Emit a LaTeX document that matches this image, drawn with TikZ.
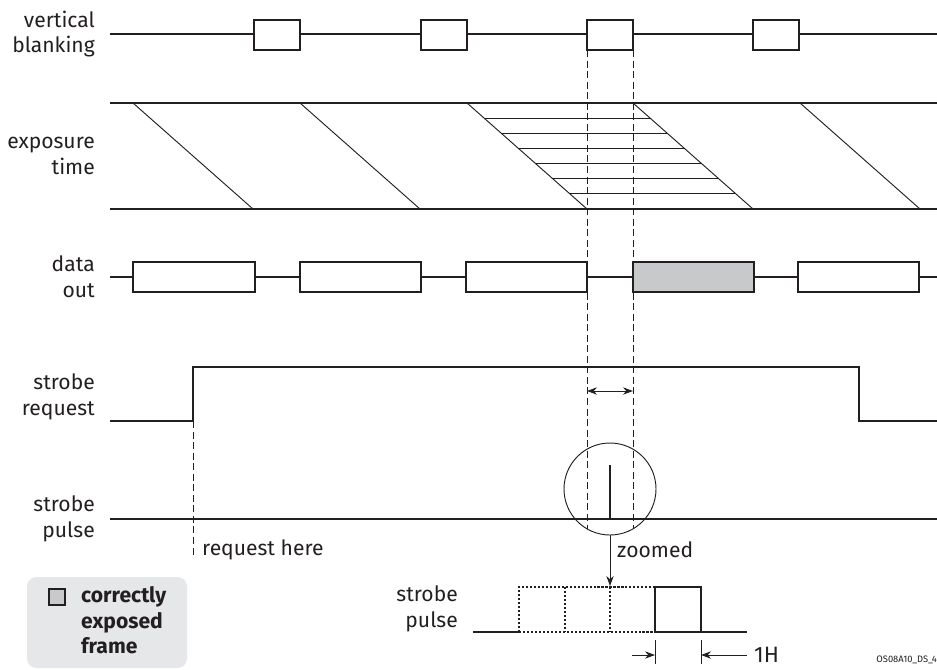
\documentclass[tikz,border=0pt]{standalone}
\usepackage{fontspec}
\setmainfont{Fira Sans}
\usetikzlibrary{arrows.meta,positioning,calc}
\definecolor{inkline}{RGB}{35,31,32}
\definecolor{framegray}{RGB}{200,201,202}
\definecolor{legendgray}{RGB}{230,231,232}

\begin{document}
\begin{tikzpicture}[x=0.03cm, y=-0.03cm,
    sig/.style={draw=inkline, line width=2.4pt},
    fine/.style={draw=inkline, line width=0.8pt},
    guide/.style={draw=inkline, line width=0.8pt, dash pattern=on 6pt off 3pt},
    dots/.style={draw=inkline, line width=1.8pt, dash pattern=on 1.8pt off 1.6pt},
    blank/.style={sig, fill=white},
    lbl/.style={font=\fontsize{18}{22}\selectfont, text=inkline, align=right, anchor=east, inner sep=0pt},
    note/.style={font=\fontsize{18}{22}\selectfont, text=inkline, anchor=west, inner sep=0pt},
    arr/.style={-{Stealth[length=3mm, width=2.2mm]}, fine}]
  \useasboundingbox (0,0) rectangle (937,669);

  % Signal names
  \node[lbl] (vblank) at (95,34) {vertical\\blanking};
  \node[lbl] (expo) at (95,156) {exposure\\time};
  \node[lbl] (dout) at (95,277) {data\\out};
  \node[lbl] (sreq) at (95,397) {strobe\\request};
  \node[lbl] (spulse) at (95,519) {strobe\\pulse};

  % Vertical blanking
  \draw[sig] (110,34) -- (937,34);
  \foreach \bx in {254,421,587,753}
    \draw[blank] (\bx,20) rectangle ++(46,30);

  % Exposure time
  \draw[sig] (110,103) -- (937,103);
  \draw[sig] (110,209) -- (937,209);
  \foreach \dx in {133,300,467,633,800}
    \draw[fine] (\dx,103) -- ++(120,106);
  \foreach \hy in {118,133,...,193}
    \draw[fine] ({467+(\hy-103)*120/106},\hy) -- ({633+(\hy-103)*120/106},\hy);

  % Data out
  \draw[sig] (110,277) -- (937,277);
  \foreach \bl/\br in {133/255,300/421,466/587,798/919}
    \draw[blank] (\bl,262) rectangle (\br,292);
  \draw[sig, fill=framegray] (633,262) rectangle (754,292);

  % Strobe request
  \draw[sig] (110,421) -- (193,421) -- (193,367) -- (859,367) -- (859,421) -- (937,421);
  \coordinate (reqtop) at (193,421);
  \coordinate (reqbot) at (193,557);
  \draw[guide] (reqtop) -- (reqbot);
  \node[note] (reqhere) at (202,550) {request here};

  % Strobe pulse
  \draw[sig] (110,519) -- (937,519);
  \draw[sig] (610,465) -- (610,519);
  \node[circle, draw=inkline, line width=0.8pt, minimum size=2.76cm, inner sep=0pt] (zoomring) at (610,489) {};

  % Window guides
  \coordinate (winL) at (587,50);
  \coordinate (winR) at (633,50);
  \draw[guide] (winL) -- (587,529);
  \draw[guide] (winR) -- (633,529);
  \coordinate (spanL) at (587,391);
  \coordinate (spanR) at (633,391);
  \draw[{Stealth[length=3mm, width=2.2mm]}-{Stealth[length=3mm, width=2.2mm]}, fine] (spanL) -- (spanR);

  % Zoomed pulse
  \coordinate (zoomtip) at (610,586);
  \draw[arr] (zoomring.south) -- (zoomtip);
  \node[note] (zoomed) at (617,550) {zoomed};
  \node[lbl] (zpulse) at (458,609) {strobe\\pulse};
  \draw[sig] (473,632) -- (519,632);
  \draw[sig] (655,632) -- (747,632);
  \draw[sig] (655,632) -- (655,587) -- (701,587) -- (701,632);
  \draw[dots] (519,632) -- (519,587) -- (655,587);
  \draw[dots] (519,632) -- (655,632);
  \foreach \qx in {565,610}
    \draw[dots] (\qx,587) -- (\qx,632);

  % 1H width
  \draw[fine] (655,640) -- (655,664);
  \draw[fine] (701,640) -- (701,664);
  \coordinate (hL) at (655,655);
  \coordinate (hR) at (701,655);
  \draw[arr] (632,655) -- (hL);
  \draw[arr] (747,655) -- (hR);
  \node[note, font=\fontsize{19}{22}\selectfont] (oneH) at (754,655) {1H};

  % Legend
  \fill[legendgray, rounded corners=8pt] (27,577) rectangle (187,668);
  \draw[draw=inkline, line width=1.4pt, fill=framegray] (49,589) rectangle (65,605);
  \node[note, font=\fontsize{18}{22}\selectfont\bfseries, align=left, anchor=north west] (legtext) at (81,586) {correctly\\exposed\\frame};

  % Figure tag
  \node[inner sep=0pt, anchor=east, font=\fontsize{8}{9}\selectfont, text=inkline] (figtag) at (937,660) {OS08A10\_DS\_4};
\end{tikzpicture}
\end{document}
